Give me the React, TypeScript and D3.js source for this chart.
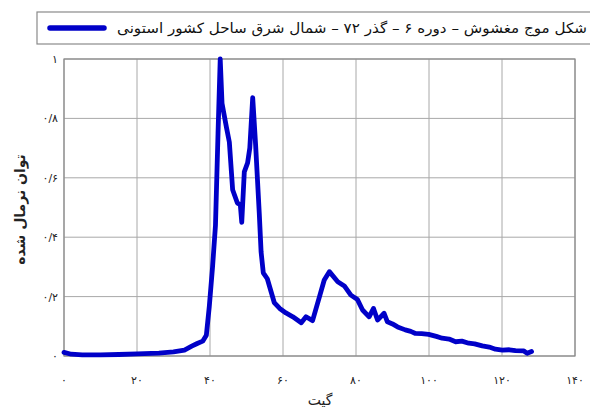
import React from "react";
import * as d3 from "d3";

const xs = [0, 2, 5, 10, 15, 20, 26, 30, 33, 35, 36.5, 38, 39, 39.8, 40.7, 41.5, 42.2, 42.8, 43.3, 44.5, 45.3, 46.2, 47.5, 48.3, 48.7, 49.4, 50.3, 50.9, 51.7, 52.5, 53.5, 54, 54.6, 55.7, 57.6, 59.1, 60.8, 62.7, 65, 66.3, 68.1, 70, 71.3, 72.7, 75, 76.8, 78.6, 80.4, 81.8, 83.6, 84.8, 85.9, 87.7, 88.6, 90, 91.4, 93.5, 95, 96.3, 98, 99.9, 102, 103.6, 105.5, 107.3, 109, 110.9, 112.5, 114.6, 116.5, 118.2, 120.1, 122, 123.7, 126, 126.9, 128.1];
const ys = [0.012, 0.006, 0.004, 0.004, 0.005, 0.007, 0.01, 0.014, 0.02, 0.033, 0.042, 0.05, 0.07, 0.166, 0.3, 0.44, 0.75, 1.0, 0.85, 0.77, 0.72, 0.56, 0.515, 0.51, 0.45, 0.62, 0.65, 0.7, 0.87, 0.71, 0.48, 0.35, 0.28, 0.26, 0.18, 0.16, 0.145, 0.132, 0.112, 0.132, 0.119, 0.2, 0.256, 0.284, 0.25, 0.236, 0.205, 0.19, 0.155, 0.132, 0.16, 0.121, 0.144, 0.115, 0.108, 0.098, 0.088, 0.083, 0.076, 0.075, 0.073, 0.066, 0.06, 0.057, 0.048, 0.05, 0.043, 0.041, 0.034, 0.03, 0.023, 0.02, 0.021, 0.018, 0.017, 0.009, 0.015];

const xTicks = [0, 20, 40, 60, 80, 100, 120, 140];
const xTickLabels = ["۰", "۲۰", "۴۰", "۶۰", "۸۰", "۱۰۰", "۱۲۰", "۱۴۰"];
const yTicks = [0, 0.2, 0.4, 0.6, 0.8, 1];
const yTickLabels = ["۰", "۰/۲", "۰/۴", "۰/۶", "۰/۸", "۱"];

const legendText = "شکل موج مغشوش – دوره ۶ – گذر ۷۲ – شمال شرق ساحل کشور استونی";
const xTitle = "گیت";
const yTitle = "توان نرمال شده";

export default function App() {
  const W = 590, H = 412;
  const left = 64, right = 575, top = 59, bottom = 356;
  const x = d3.scaleLinear().domain([0, 140]).range([left, right]);
  const y = d3.scaleLinear().domain([0, 1]).range([bottom, top]);
  const pts: [number, number][] = xs.map((v, i) => [v, ys[i]]);
  const line = d3.line<[number, number]>().x(d => x(d[0])).y(d => y(d[1]));
  const font = "'DejaVu Sans', sans-serif";
  const blue = "#0000c8";
  return (
    <svg width={W} height={H} style={{ position: "absolute", left: 0, top: 0, background: "#fff" }} fontFamily={font}>
      <rect x={0} y={0} width={W} height={H} fill="#fff" />
      {xTicks.map(t => (
        <line key={"gx" + t} x1={x(t)} x2={x(t)} y1={top} y2={bottom} stroke="#a8a8a8" strokeWidth={1} />
      ))}
      {yTicks.map(t => (
        <line key={"gy" + t} x1={left} x2={right} y1={y(t)} y2={y(t)} stroke="#a8a8a8" strokeWidth={1} />
      ))}
      <rect x={left} y={top} width={right - left} height={bottom - top} fill="none" stroke="#8a8a8a" strokeWidth={1.2} />
      {xTicks.map((t, i) => (
        <text key={"tx" + t} x={x(t)} y={384} fontSize={11} textAnchor="middle" fill="#222">{xTickLabels[i]}</text>
      ))}
      {yTicks.map((t, i) => (
        <text key={"ty" + t} x={58} y={y(t) + 4} fontSize={11} textAnchor="end" fill="#222">{yTickLabels[i]}</text>
      ))}
      <text x={320} y={405} fontSize={14} textAnchor="middle" fill="#222">{xTitle}</text>
      <text transform={`translate(25,${(top + bottom) / 2 + 2}) rotate(-90)`} fontSize={14} fontWeight="bold" textAnchor="middle" fill="#222">{yTitle}</text>
      <path d={line(pts) || ""} fill="none" stroke={blue} strokeWidth={4.8} strokeLinejoin="round" strokeLinecap="round" />
      <rect x={37} y={12} width={560} height={32} fill="#fff" stroke="#8a8a8a" strokeWidth={1.2} />
      <line x1={50} x2={104} y1={28} y2={28} stroke={blue} strokeWidth={5.5} strokeLinecap="round" />
      <text x={587} y={33} fontSize={14} textAnchor="start" direction="rtl" fill="#111" textLength={470} lengthAdjust="spacingAndGlyphs">{legendText}</text>
    </svg>
  );
}
